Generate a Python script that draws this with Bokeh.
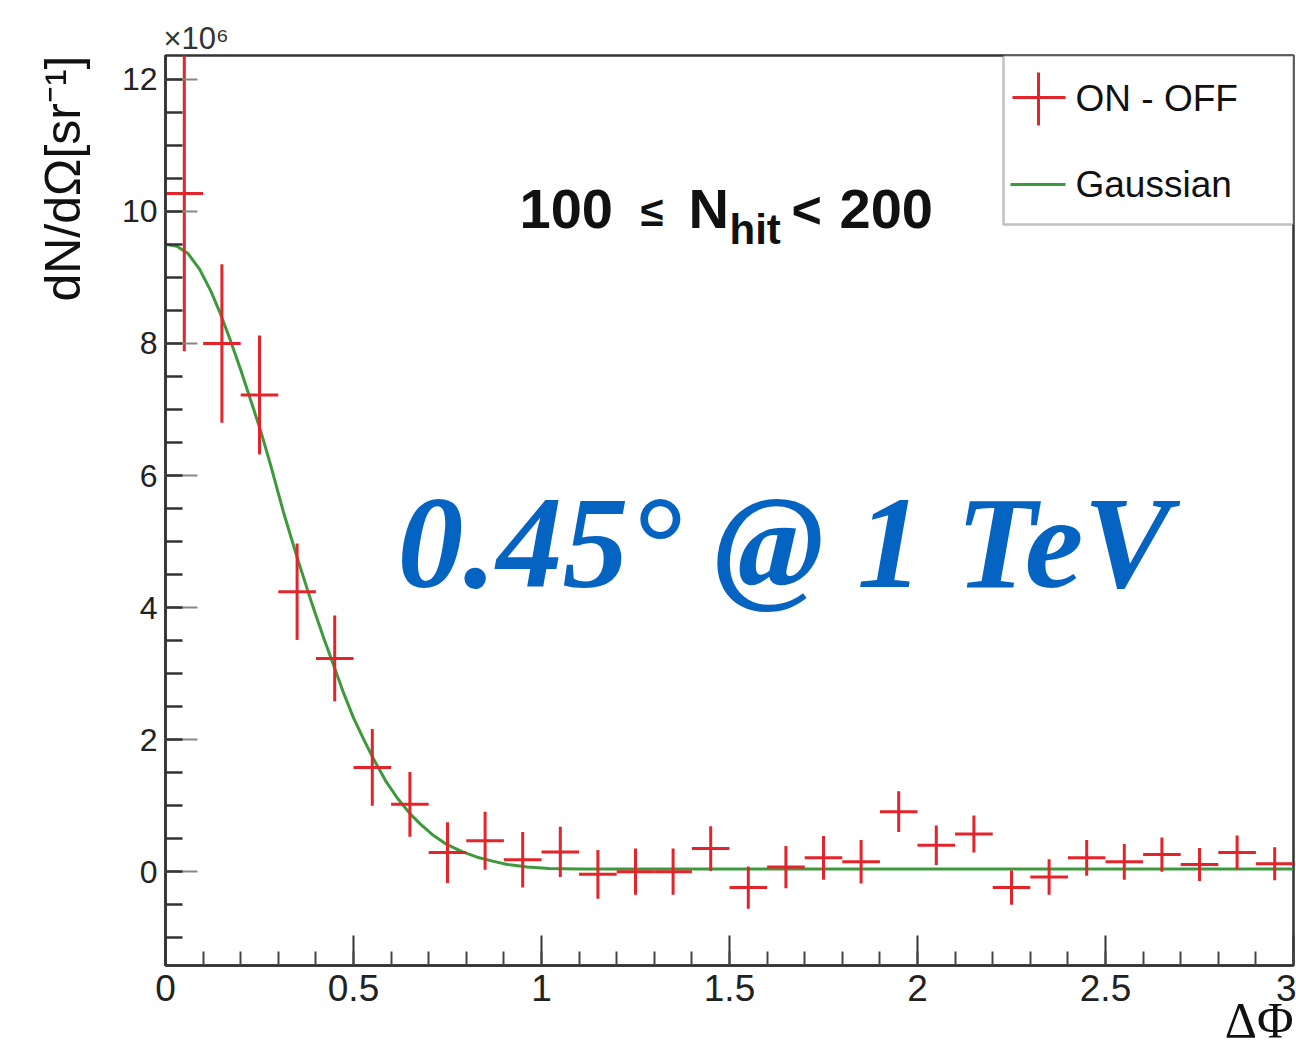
import numpy as np
from bokeh.plotting import figure
from bokeh.models import Range1d, FixedTicker, Label, BoxAnnotation, ColumnDataSource, Title
from bokeh.embed import file_html
from bokeh.resources import INLINE

# ---------------- data ----------------
bin_centers = [0.05, 0.15, 0.25, 0.35, 0.45, 0.55, 0.65, 0.75, 0.85, 0.95,
               1.05, 1.15, 1.25, 1.35, 1.45, 1.55, 1.65, 1.75, 1.85, 1.95,
               2.05, 2.15, 2.25, 2.35, 2.45, 2.55, 2.65, 2.75, 2.85, 2.95]
on_off = [10.27, 8.0, 7.22, 4.24, 3.23, 1.58, 1.02, 0.29, 0.47, 0.18,
          0.30, -0.04, 0.0, 0.0, 0.35, -0.24, 0.07, 0.21, 0.15, 0.91,
          0.40, 0.57, -0.24, -0.08, 0.21, 0.15, 0.26, 0.11, 0.29, 0.12]
on_off_err = [2.39, 1.2, 0.9, 0.73, 0.65, 0.58, 0.49, 0.46, 0.44, 0.42,
              0.38, 0.37, 0.35, 0.35, 0.34, 0.32, 0.32, 0.33, 0.33, 0.31,
              0.30, 0.28, 0.26, 0.27, 0.27, 0.27, 0.26, 0.25, 0.26, 0.25]
bin_half_width = 0.05

gauss_x = [0.0, 0.03, 0.06, 0.09, 0.12, 0.146, 0.173, 0.2, 0.226, 0.253,
           0.28, 0.315, 0.35, 0.386, 0.42, 0.45, 0.474, 0.5, 0.53, 0.554,
           0.585, 0.616, 0.65, 0.678, 0.71, 0.749, 0.79, 0.829, 0.87, 0.909,
           0.962, 1.02, 1.1, 1.5, 2.0, 2.5, 3.0]
gauss_y = [9.5, 9.47, 9.36, 9.13, 8.8, 8.45, 8.04, 7.6, 7.15, 6.68,
           6.15, 5.42, 4.76, 4.12, 3.55, 3.08, 2.70, 2.33, 1.97, 1.70,
           1.38, 1.12, 0.88, 0.72, 0.56, 0.41, 0.30, 0.22, 0.16, 0.11,
           0.07, 0.05, 0.04, 0.04, 0.04, 0.04, 0.04]

x_ticks = [0, 0.5, 1, 1.5, 2, 2.5, 3]
x_tick_labels = ["0", "0.5", "1", "1.5", "2", "2.5", "3"]
y_ticks = [0, 2, 4, 6, 8, 10, 12]
y_tick_labels = ["0", "2", "4", "6", "8", "10", "12"]

legend_labels = ["ON - OFF", "Gaussian"]
x_title = "ΔΦ"
y_title = "dN/dΩ[sr⁻¹]"
y_exponent = "×10⁶"

# ---------------- layout ----------------
W, H = 1296, 1050
FL, FR, FT, FB = 165, 1293, 55, 965
X0, X1 = 0.0, 3.0
Y0, Y1 = -1.42, 12.36

def dx(px):
    return X0 + (px - FL) / (FR - FL) * (X1 - X0)

def dy(py):
    return Y0 + (FB - py) / (FB - FT) * (Y1 - Y0)

RED = "#e3242b"
GREEN = "#3c9a3c"
AX = "#333333"
SANS = "Liberation Sans"
SERIF = "Liberation Serif"

p = figure(width=W, height=H, output_backend="svg", toolbar_location=None,
           x_range=Range1d(X0, X1), y_range=Range1d(Y0, Y1),
           min_border_left=FL, min_border_right=W - FR,
           min_border_top=FT, min_border_bottom=H - FB, title=None)
p.background_fill_color = "white"
p.border_fill_color = "white"
p.outline_line_color = AX
p.outline_line_width = 2.5
p.xgrid.visible = False
p.ygrid.visible = False

xa = p.xaxis[0]
xa.ticker = FixedTicker(ticks=x_ticks, minor_ticks=[i / 10 for i in range(31)])
xa.major_label_overrides = {t: s for t, s in zip(x_ticks, x_tick_labels)}
xa.axis_line_color = AX
xa.axis_line_width = 2.5
xa.major_tick_in = 30
xa.major_tick_out = 0
xa.minor_tick_in = 14
xa.minor_tick_out = 0
xa.major_tick_line_color = AX
xa.major_tick_line_width = 2
xa.minor_tick_line_color = "#444444"
xa.minor_tick_line_width = 2
xa.major_label_text_font = SANS
xa.major_label_text_font_size = "37px"
xa.major_label_text_color = "#222222"
xa.major_label_standoff = 9

ya = p.yaxis[0]
ya.ticker = FixedTicker(ticks=y_ticks, minor_ticks=[i / 2 for i in range(-2, 25)])
ya.major_label_overrides = {t: s for t, s in zip(y_ticks, y_tick_labels)}
ya.axis_line_color = AX
ya.axis_line_width = 2.5
ya.major_tick_in = 32
ya.major_tick_out = 0
ya.minor_tick_in = 17
ya.minor_tick_out = 0
ya.major_tick_line_color = "#888888"
ya.major_tick_line_width = 2
ya.minor_tick_line_color = AX
ya.minor_tick_line_width = 2.5
ya.major_label_text_font = SANS
ya.major_label_text_font_size = "32px"
ya.major_label_text_color = "#222222"
ya.major_label_standoff = 8

# axis titles (ROOT puts them at the far end of each axis)
p.add_layout(Title(text=y_exponent, align="left", offset=-2, standoff=0,
                   text_font=SANS, text_font_style="normal", text_font_size="31px",
                   text_color="#333333", vertical_align="bottom"), "above")
p.add_layout(Title(text=x_title, align="right", offset=0, standoff=-24,
                   text_font=SERIF, text_font_style="normal", text_font_size="50px",
                   text_color="#111111", vertical_align="top"), "below")
p.add_layout(Title(text=y_title, align="right", offset=0, standoff=56,
                   text_font=SANS, text_font_style="normal", text_font_size="50px",
                   text_color="#111111", vertical_align="bottom"), "left")

# ---------------- glyphs ----------------
xc = np.array(bin_centers)
yv = np.array(on_off)
ye = np.array(on_off_err)

p.line(gauss_x, gauss_y, line_color=GREEN, line_width=3)

src = ColumnDataSource(dict(x=xc, y=yv, xl=xc - bin_half_width, xr=xc + bin_half_width,
                            lo=yv - ye, hi=yv + ye))
p.segment(x0="xl", x1="xr", y0="y", y1="y", source=src, line_color=RED, line_width=3)
p.segment(x0="x", x1="x", y0="lo", y1="hi", source=src, line_color=RED, line_width=3)

# ---------------- legend (drawn by hand, ROOT style) ----------------
box = BoxAnnotation(left=dx(1003), right=dx(FR), bottom=dy(224), top=Y1,
                    fill_color="white", fill_alpha=1.0, line_color=AX, line_width=2.5,
                    level="underlay")
p.add_layout(box)
leg_src = ColumnDataSource(dict(
    x0=[dx(1012), dx(1038), dx(1010)],
    x1=[dx(1065), dx(1038), dx(1065)],
    y0=[dy(97), dy(72), dy(184)],
    y1=[dy(97), dy(125), dy(184)],
    c=[RED, RED, GREEN]))
p.segment(x0="x0", x1="x1", y0="y0", y1="y1", line_color="c", line_width=3, source=leg_src)

# ---------------- texts inside the frame ----------------
BASE_FIX = 0.35   # empirical shift between wanted baseline and Label anchor

def lab(text, px, py, size, font=SANS, style="normal", color="#111111", align="left"):
    p.add_layout(Label(x=dx(px), y=dy(py - BASE_FIX * size), text=text, text_font=font,
                       text_font_size=f"{size}px", text_font_style=style,
                       text_color=color, text_align=align, text_baseline="alphabetic"))

for t, py in zip(legend_labels, [111, 197]):
    lab(t, 1075, py, 37)

# N_hit cut
lab("100", 519, 228, 56, style="bold")
lab("≤", 640, 226, 42, style="bold")
lab("N", 688, 228, 56, style="bold")
lab("hit", 729, 244, 42, style="bold")
lab("<", 791, 228, 52, style="bold")
lab("200", 839, 228, 56, style="bold")

# big blue annotation
lab("0.45° @ 1 TeV", 397, 588, 132, font=SERIF, style="bold italic", color="#0563c1")

open("out.html", "w").write(file_html(p, INLINE))
